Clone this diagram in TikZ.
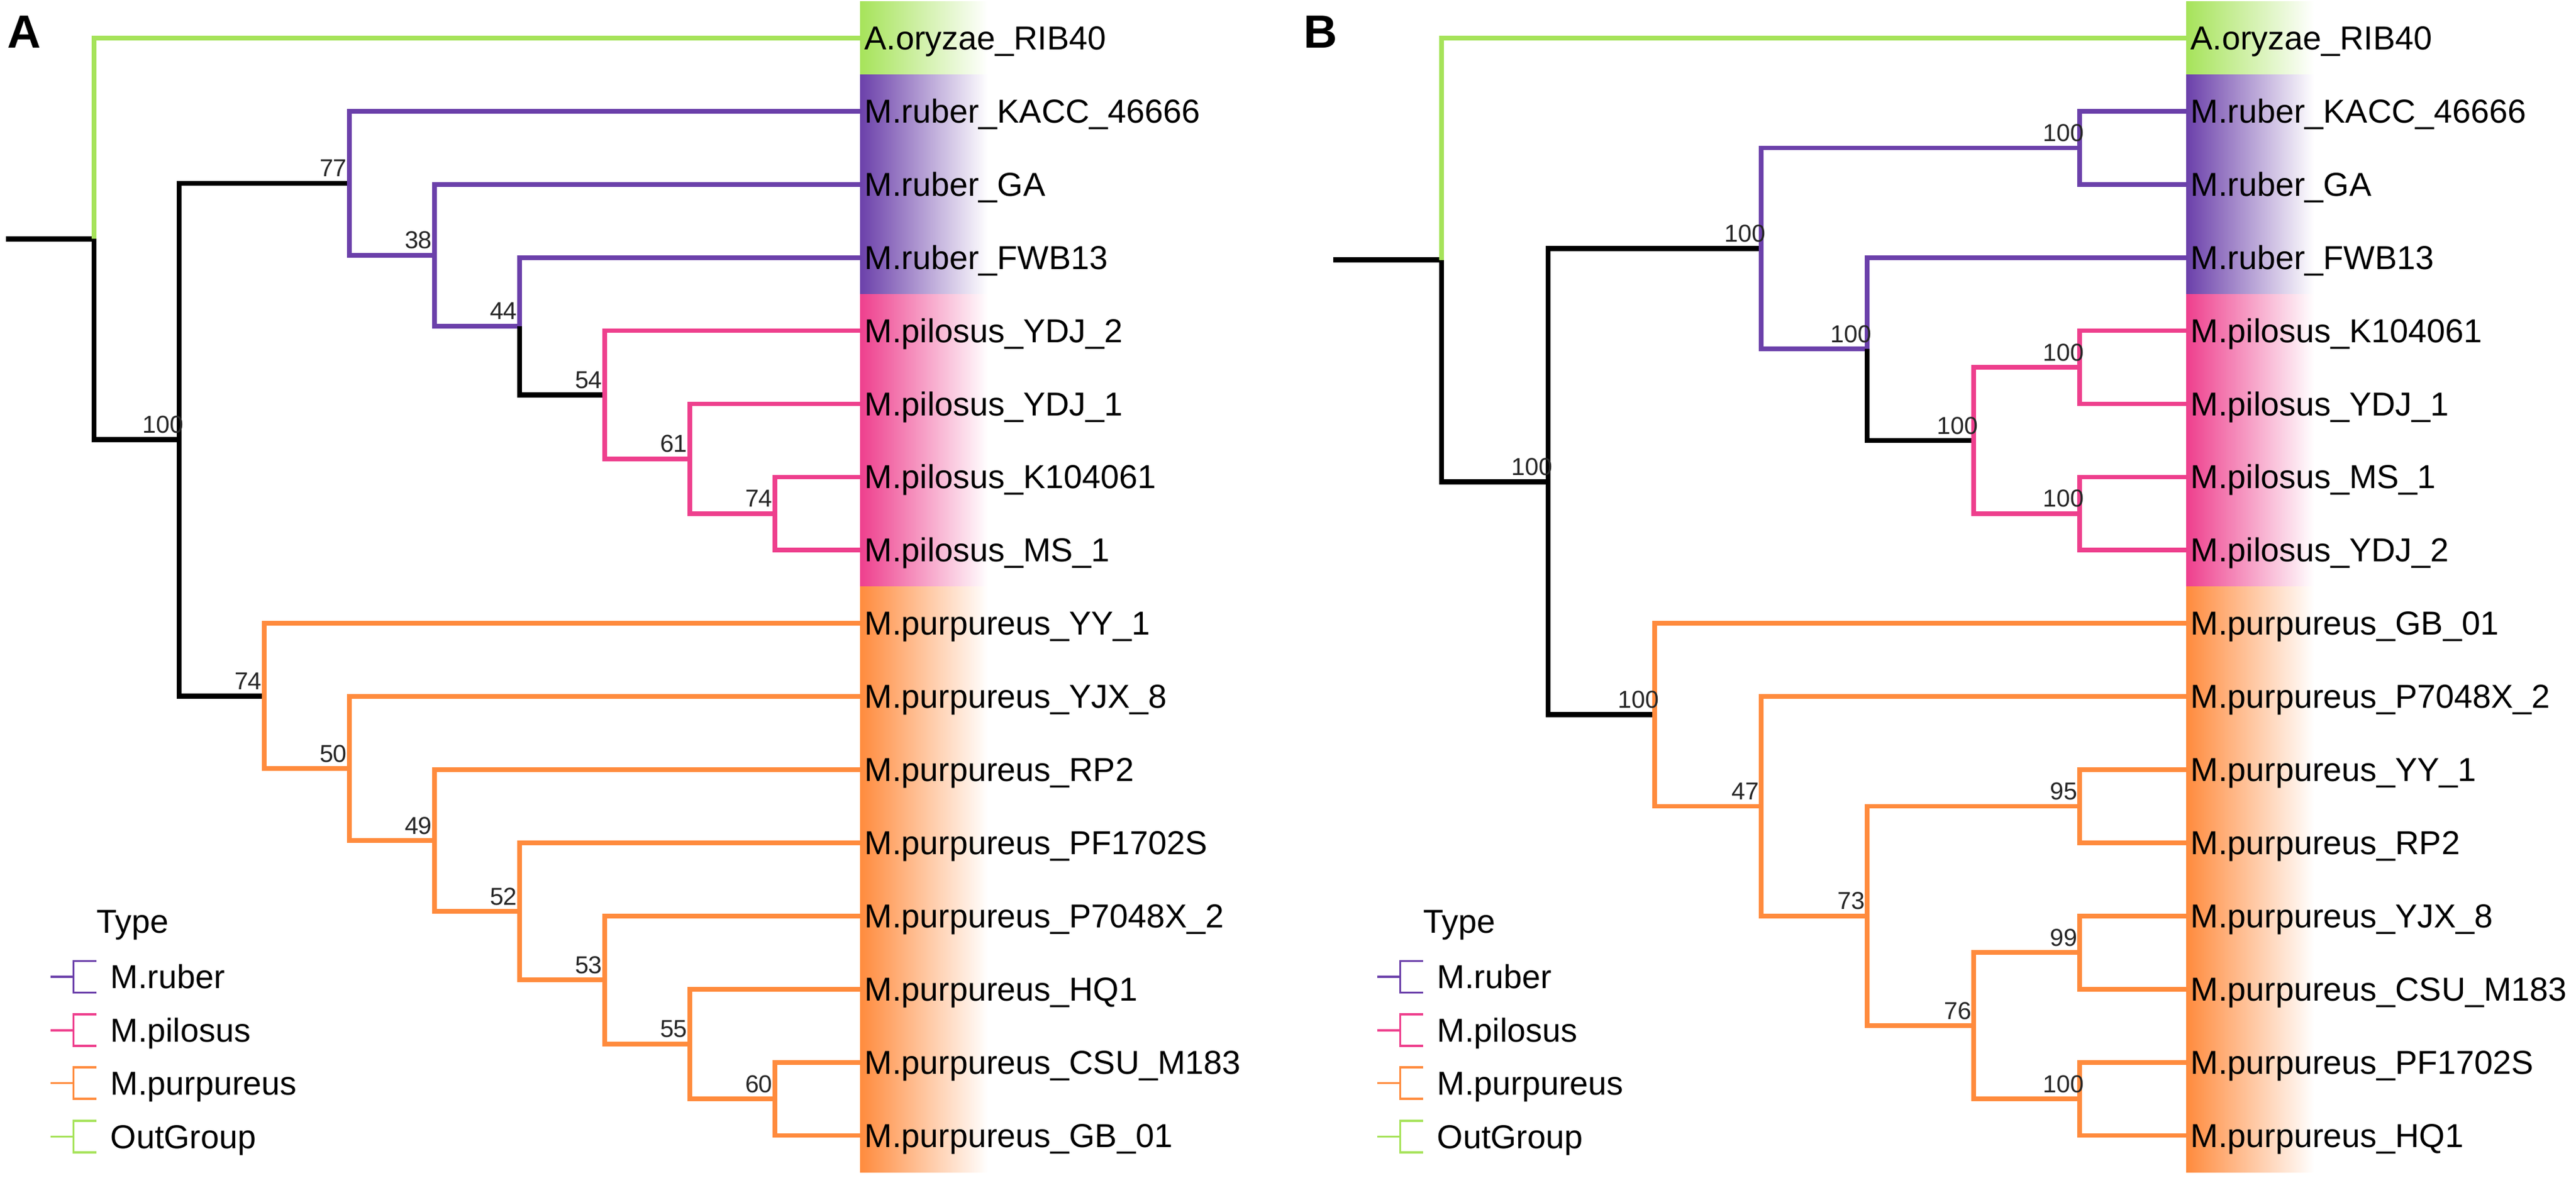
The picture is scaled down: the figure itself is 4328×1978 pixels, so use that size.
\documentclass[tikz,border=0pt]{standalone}
\usepackage{fontspec}
\setmainfont{Liberation Sans}
\usepackage{xcolor}

\definecolor{grn}{HTML}{A6E35A}
\definecolor{purp}{HTML}{6B40AA}
\definecolor{pnk}{HTML}{EE3F8D}
\definecolor{orng}{HTML}{FF8B3D}

\tikzset{
	br/.style={line width=2.2pt},
	blk/.style={line width=2.5pt, black},
	tip/.style={anchor=west, inner xsep=0.07cm, inner ysep=0pt, text height=11.1pt, text depth=0pt, font=\fontsize{15.85}{18}\selectfont},
	boot/.style={anchor=base, inner sep=0pt, xshift=-0.27cm, yshift=0.11cm, font=\fontsize{11.7}{13}\selectfont, text=black!85},
	keytext/.style={anchor=west, inner sep=0pt, text height=11.1pt, text depth=0pt, font=\fontsize{15.85}{18}\selectfont},
	keyline/.style={line width=1.1pt},
	panel/.style={anchor=base west, inner sep=0pt, font=\bfseries\fontsize{22.2}{24}\selectfont}
}

\begin{document}
\begin{tikzpicture}[x=0.01cm, y=-0.01cm]
	\useasboundingbox (0,0) rectangle (4328,1978);

	\node[panel] (pa) at (12,80) {A};
	\node[panel] (pb) at (2190,80) {B};

	\shade[left color=grn, right color=white] (1445,2.6) rectangle (1660,125.5);
	\shade[left color=purp, right color=white] (1445,125.5) rectangle (1660,494.2);
	\shade[left color=pnk, right color=white] (1445,494.2) rectangle (1660,985.8);
	\shade[left color=orng, right color=white] (1445,985.8) rectangle (1660,1969);
	\shade[left color=grn, right color=white] (3673,2.6) rectangle (3888,125.5);
	\shade[left color=purp, right color=white] (3673,125.5) rectangle (3888,494.2);
	\shade[left color=pnk, right color=white] (3673,494.2) rectangle (3888,985.8);
	\shade[left color=orng, right color=white] (3673,985.8) rectangle (3888,1969);

	\node[tip] (aory) at (1445,64) {A.oryzae\_RIB40};
	\node[tip] (akacc) at (1445,186.9) {M.ruber\_KACC\_46666};
	\node[tip] (aga) at (1445,309.8) {M.ruber\_GA};
	\node[tip] (afwb) at (1445,432.7) {M.ruber\_FWB13};
	\node[tip] (aydj2) at (1445,555.6) {M.pilosus\_YDJ\_2};
	\node[tip] (aydj1) at (1445,678.5) {M.pilosus\_YDJ\_1};
	\node[tip] (ak10) at (1445,801.4) {M.pilosus\_K104061};
	\node[tip] (ams1) at (1445,924.3) {M.pilosus\_MS\_1};
	\node[tip] (ayy1) at (1445,1047.2) {M.purpureus\_YY\_1};
	\node[tip] (ayjx) at (1445,1170.1) {M.purpureus\_YJX\_8};
	\node[tip] (arp2) at (1445,1293) {M.purpureus\_RP2};
	\node[tip] (apf) at (1445,1415.9) {M.purpureus\_PF1702S};
	\node[tip] (ap70) at (1445,1538.8) {M.purpureus\_P7048X\_2};
	\node[tip] (ahq1) at (1445,1661.7) {M.purpureus\_HQ1};
	\node[tip] (acsu) at (1445,1784.6) {M.purpureus\_CSU\_M183};
	\node[tip] (agb) at (1445,1907.5) {M.purpureus\_GB\_01};

	\coordinate (ra0) at (10,401.2);
	\coordinate (ra) at (158,401.2);
	\coordinate (a100) at (301,738.5);
	\coordinate (a77) at (587,307.9);
	\coordinate (a38) at (730,428.9);
	\coordinate (a44) at (873,547.9);
	\coordinate (a54) at (1016,663.1);
	\coordinate (a61) at (1159,770.7);
	\coordinate (a74p) at (1302,862.9);
	\coordinate (a74o) at (444,1169.1);
	\coordinate (a50) at (587,1291);
	\coordinate (a49) at (730,1412.1);
	\coordinate (a52) at (873,1531.1);
	\coordinate (a53) at (1016,1646.3);
	\coordinate (a55) at (1159,1753.9);
	\coordinate (a60) at (1302,1846);

	\draw[blk] (ra0) -- (ra);
	\draw[br,grn] (ra) |- (aory);
	\draw[blk] (ra) |- (a100);
	\draw[blk] (a100) |- (a77);
	\draw[blk] (a100) |- (a74o);
	\draw[br,purp] (a77) |- (akacc);
	\draw[br,purp] (a77) |- (a38);
	\draw[br,purp] (a38) |- (aga);
	\draw[br,purp] (a38) |- (a44);
	\draw[br,purp] (a44) |- (afwb);
	\draw[blk] (a44) |- (a54);
	\draw[br,pnk] (a54) |- (aydj2);
	\draw[br,pnk] (a54) |- (a61);
	\draw[br,pnk] (a61) |- (aydj1);
	\draw[br,pnk] (a61) |- (a74p);
	\draw[br,pnk] (a74p) |- (ak10);
	\draw[br,pnk] (a74p) |- (ams1);
	\draw[br,orng] (a74o) |- (ayy1);
	\draw[br,orng] (a74o) |- (a50);
	\draw[br,orng] (a50) |- (ayjx);
	\draw[br,orng] (a50) |- (a49);
	\draw[br,orng] (a49) |- (arp2);
	\draw[br,orng] (a49) |- (a52);
	\draw[br,orng] (a52) |- (apf);
	\draw[br,orng] (a52) |- (a53);
	\draw[br,orng] (a53) |- (ap70);
	\draw[br,orng] (a53) |- (a55);
	\draw[br,orng] (a55) |- (ahq1);
	\draw[br,orng] (a55) |- (a60);
	\draw[br,orng] (a60) |- (acsu);
	\draw[br,orng] (a60) |- (agb);

	\node[boot] (la100) at (a100) {100};
	\node[boot] (la77) at (a77) {77};
	\node[boot] (la38) at (a38) {38};
	\node[boot] (la44) at (a44) {44};
	\node[boot] (la54) at (a54) {54};
	\node[boot] (la61) at (a61) {61};
	\node[boot] (la74p) at (a74p) {74};
	\node[boot] (la74o) at (a74o) {74};
	\node[boot] (la50) at (a50) {50};
	\node[boot] (la49) at (a49) {49};
	\node[boot] (la52) at (a52) {52};
	\node[boot] (la53) at (a53) {53};
	\node[boot] (la55) at (a55) {55};
	\node[boot] (la60) at (a60) {60};

	\node[anchor=base west, inner sep=0pt, font=\fontsize{15.85}{18}\selectfont] (atype) at (162,1567) {Type};
	\draw[keyline,purp] (85,1641) -- (123.5,1641);
	\draw[keyline,purp] (162,1614.5) -- (123.5,1614.5) -- (123.5,1667.5) -- (162,1667.5);
	\node[keytext] (akruber) at (185,1641) {M.ruber};
	\draw[keyline,pnk] (85,1730.6) -- (123.5,1730.6);
	\draw[keyline,pnk] (162,1704.1) -- (123.5,1704.1) -- (123.5,1757.1) -- (162,1757.1);
	\node[keytext] (akpil) at (185,1730.6) {M.pilosus};
	\draw[keyline,orng] (85,1819.5) -- (123.5,1819.5);
	\draw[keyline,orng] (162,1793) -- (123.5,1793) -- (123.5,1846) -- (162,1846);
	\node[keytext] (akpur) at (185,1819.5) {M.purpureus};
	\draw[keyline,grn] (85,1909.5) -- (123.5,1909.5);
	\draw[keyline,grn] (162,1883) -- (123.5,1883) -- (123.5,1936) -- (162,1936);
	\node[keytext] (akout) at (185,1909.5) {OutGroup};

	\node[tip] (bory) at (3673,64) {A.oryzae\_RIB40};
	\node[tip] (bkacc) at (3673,186.9) {M.ruber\_KACC\_46666};
	\node[tip] (bga) at (3673,309.8) {M.ruber\_GA};
	\node[tip] (bfwb) at (3673,432.7) {M.ruber\_FWB13};
	\node[tip] (bk10) at (3673,555.6) {M.pilosus\_K104061};
	\node[tip] (bydj1) at (3673,678.5) {M.pilosus\_YDJ\_1};
	\node[tip] (bms1) at (3673,801.4) {M.pilosus\_MS\_1};
	\node[tip] (bydj2) at (3673,924.3) {M.pilosus\_YDJ\_2};
	\node[tip] (bgb) at (3673,1047.2) {M.purpureus\_GB\_01};
	\node[tip] (bp70) at (3673,1170.1) {M.purpureus\_P7048X\_2};
	\node[tip] (byy1) at (3673,1293) {M.purpureus\_YY\_1};
	\node[tip] (brp2) at (3673,1415.9) {M.purpureus\_RP2};
	\node[tip] (byjx) at (3673,1538.8) {M.purpureus\_YJX\_8};
	\node[tip] (bcsu) at (3673,1661.7) {M.purpureus\_CSU\_M183};
	\node[tip] (bpf) at (3673,1784.6) {M.purpureus\_PF1702S};
	\node[tip] (bhq1) at (3673,1907.5) {M.purpureus\_HQ1};

	\coordinate (rb0) at (2240,436.5);
	\coordinate (rb) at (2422,436.5);
	\coordinate (b1) at (2601,809.1);
	\coordinate (b2) at (2959,417.3);
	\coordinate (b3) at (3494,248.4);
	\coordinate (b4) at (3137,586.3);
	\coordinate (b5) at (3316,740);
	\coordinate (b6) at (3494,617);
	\coordinate (b7) at (3494,862.9);
	\coordinate (b8) at (2780,1200.8);
	\coordinate (b9) at (2959,1354.5);
	\coordinate (b10) at (3137,1538.8);
	\coordinate (b11) at (3494,1354.5);
	\coordinate (b12) at (3316,1723.2);
	\coordinate (b13) at (3494,1600.3);
	\coordinate (b14) at (3494,1846);

	\draw[blk] (rb0) -- (rb);
	\draw[br,grn] (rb) |- (bory);
	\draw[blk] (rb) |- (b1);
	\draw[blk] (b1) |- (b2);
	\draw[blk] (b1) |- (b8);
	\draw[br,purp] (b2) |- (b3);
	\draw[br,purp] (b2) |- (b4);
	\draw[br,purp] (b3) |- (bkacc);
	\draw[br,purp] (b3) |- (bga);
	\draw[br,purp] (b4) |- (bfwb);
	\draw[blk] (b4) |- (b5);
	\draw[br,pnk] (b5) |- (b6);
	\draw[br,pnk] (b5) |- (b7);
	\draw[br,pnk] (b6) |- (bk10);
	\draw[br,pnk] (b6) |- (bydj1);
	\draw[br,pnk] (b7) |- (bms1);
	\draw[br,pnk] (b7) |- (bydj2);
	\draw[br,orng] (b8) |- (bgb);
	\draw[br,orng] (b8) |- (b9);
	\draw[br,orng] (b9) |- (bp70);
	\draw[br,orng] (b9) |- (b10);
	\draw[br,orng] (b10) |- (b11);
	\draw[br,orng] (b10) |- (b12);
	\draw[br,orng] (b11) |- (byy1);
	\draw[br,orng] (b11) |- (brp2);
	\draw[br,orng] (b12) |- (b13);
	\draw[br,orng] (b12) |- (b14);
	\draw[br,orng] (b13) |- (byjx);
	\draw[br,orng] (b13) |- (bcsu);
	\draw[br,orng] (b14) |- (bpf);
	\draw[br,orng] (b14) |- (bhq1);

	\node[boot] (lb1) at (b1) {100};
	\node[boot] (lb2) at (b2) {100};
	\node[boot] (lb3) at (b3) {100};
	\node[boot] (lb4) at (b4) {100};
	\node[boot] (lb5) at (b5) {100};
	\node[boot] (lb6) at (b6) {100};
	\node[boot] (lb7) at (b7) {100};
	\node[boot] (lb8) at (b8) {100};
	\node[boot] (lb9) at (b9) {47};
	\node[boot] (lb10) at (b10) {73};
	\node[boot] (lb11) at (b11) {95};
	\node[boot] (lb12) at (b12) {76};
	\node[boot] (lb13) at (b13) {99};
	\node[boot] (lb14) at (b14) {100};

	\node[anchor=base west, inner sep=0pt, font=\fontsize{15.85}{18}\selectfont] (btype) at (2391,1567) {Type};
	\draw[keyline,purp] (2314,1641) -- (2352.5,1641);
	\draw[keyline,purp] (2391,1614.5) -- (2352.5,1614.5) -- (2352.5,1667.5) -- (2391,1667.5);
	\node[keytext] (bkruber) at (2414,1641) {M.ruber};
	\draw[keyline,pnk] (2314,1730.6) -- (2352.5,1730.6);
	\draw[keyline,pnk] (2391,1704.1) -- (2352.5,1704.1) -- (2352.5,1757.1) -- (2391,1757.1);
	\node[keytext] (bkpil) at (2414,1730.6) {M.pilosus};
	\draw[keyline,orng] (2314,1819.5) -- (2352.5,1819.5);
	\draw[keyline,orng] (2391,1793) -- (2352.5,1793) -- (2352.5,1846) -- (2391,1846);
	\node[keytext] (bkpur) at (2414,1819.5) {M.purpureus};
	\draw[keyline,grn] (2314,1909.5) -- (2352.5,1909.5);
	\draw[keyline,grn] (2391,1883) -- (2352.5,1883) -- (2352.5,1936) -- (2391,1936);
	\node[keytext] (bkout) at (2414,1909.5) {OutGroup};
\end{tikzpicture}
\end{document}
